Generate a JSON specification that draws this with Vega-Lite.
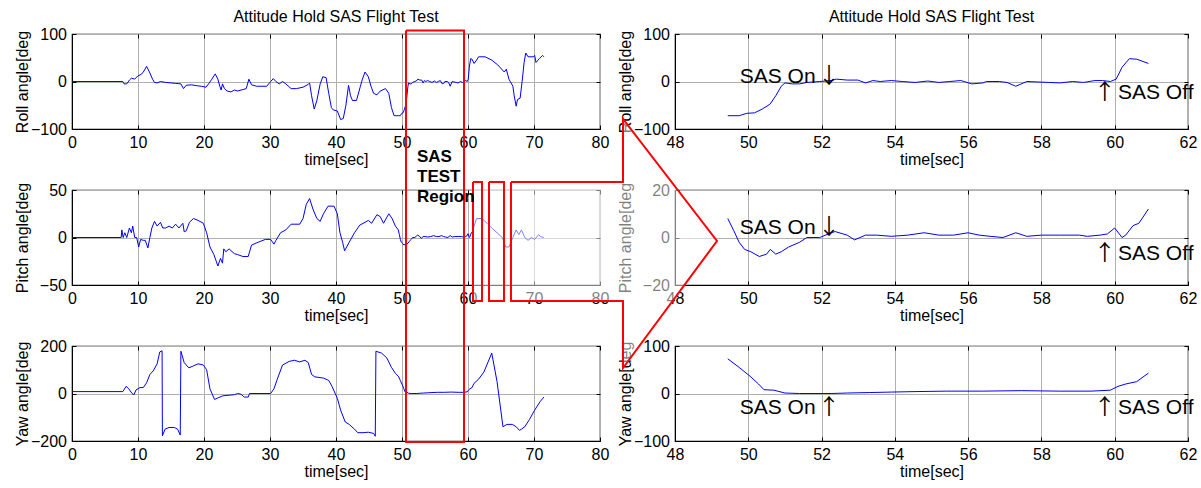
{
  "$schema": "https://vega.github.io/schema/vega-lite/v6.json",
  "padding": {"left": 13, "top": 8, "right": 0, "bottom": 0},
  "autosize": {"type": "pad"},
  "background": "#ffffff",
  "columns": 2,
  "spacing": {"row": 61, "column": 75},
  "bounds": "flush",
  "datasets": {
    "roll": [
      {"t":0,"v":0},{"t":7.7,"v":0},{"t":7.9,"v":-5},{"t":8.3,"v":-5},{"t":8.7,"v":3},{"t":9.0,"v":7},{"t":9.5,"v":5},{"t":10.0,"v":12},{"t":10.5,"v":15},{"t":10.9,"v":22},{"t":11.3,"v":32},{"t":11.8,"v":18},{"t":12.2,"v":5},{"t":12.5,"v":-2},{"t":12.9,"v":-3},{"t":13.4,"v":0},{"t":14.2,"v":-2},{"t":15.0,"v":-3},{"t":15.7,"v":-4},{"t":16.5,"v":-5},{"t":16.9,"v":-15},{"t":17.3,"v":-8},{"t":18.1,"v":-7},{"t":19.0,"v":-9},{"t":19.6,"v":-10},{"t":20.3,"v":-12},{"t":20.7,"v":-5},{"t":21.2,"v":5},{"t":21.7,"v":16},{"t":22.1,"v":5},{"t":22.4,"v":-10},{"t":22.6,"v":-18},{"t":22.8,"v":-5},{"t":23.1,"v":-15},{"t":23.5,"v":-20},{"t":24.1,"v":-22},{"t":24.6,"v":-18},{"t":25.1,"v":-20},{"t":25.9,"v":-17},{"t":26.4,"v":-15},{"t":26.8,"v":5},{"t":27.2,"v":-7},{"t":28.0,"v":-10},{"t":29.5,"v":-10},{"t":30.1,"v":0},{"t":30.5,"v":6},{"t":30.9,"v":0},{"t":31.4,"v":-5},{"t":31.9,"v":0},{"t":32.4,"v":-5},{"t":33.2,"v":-15},{"t":34.0,"v":-15},{"t":35.0,"v":-12},{"t":35.8,"v":-6},{"t":36.0,"v":-3},{"t":36.3,"v":-30},{"t":36.7,"v":-58},{"t":37.1,"v":-40},{"t":37.6,"v":-5},{"t":38.0,"v":10},{"t":38.5,"v":8},{"t":38.9,"v":-25},{"t":39.3,"v":-55},{"t":39.6,"v":-60},{"t":40.2,"v":-62},{"t":40.7,"v":-80},{"t":41.1,"v":-78},{"t":41.5,"v":-50},{"t":41.9,"v":-8},{"t":42.2,"v":-30},{"t":42.5,"v":-40},{"t":43.1,"v":-40},{"t":43.7,"v":-10},{"t":44.0,"v":5},{"t":44.4,"v":20},{"t":44.9,"v":10},{"t":45.3,"v":-10},{"t":45.7,"v":-25},{"t":46.2,"v":-28},{"t":46.7,"v":-20},{"t":47.5,"v":-15},{"t":48.0,"v":-25},{"t":48.4,"v":-55},{"t":48.8,"v":-72},{"t":49.2,"v":-72},
      {"t":49.44,"v":-72},{"t":49.75,"v":-72},{"t":49.96,"v":-67},{"t":50.17,"v":-66},{"t":50.38,"v":-58},{"t":50.59,"v":-48},{"t":50.75,"v":-30},{"t":50.9,"v":-10},{"t":51.0,"v":-3},{"t":51.2,"v":-5},{"t":51.4,"v":-5},{"t":51.6,"v":-2},{"t":51.95,"v":0},{"t":52.26,"v":2},{"t":52.4,"v":5},{"t":52.7,"v":3},{"t":52.99,"v":3},{"t":53.2,"v":-3},{"t":53.4,"v":2},{"t":53.6,"v":0},{"t":53.9,"v":2},{"t":54.2,"v":0},{"t":54.55,"v":-2},{"t":54.9,"v":1},{"t":55.2,"v":-2},{"t":55.5,"v":0},{"t":55.8,"v":2},{"t":56.1,"v":-5},{"t":56.4,"v":-3},{"t":56.5,"v":0},{"t":56.85,"v":0},{"t":57.06,"v":-2},{"t":57.3,"v":-10},{"t":57.6,"v":0},{"t":57.9,"v":-1},{"t":58.2,"v":-2},{"t":58.5,"v":-3},{"t":58.85,"v":0},{"t":59.15,"v":-2},{"t":59.46,"v":2},{"t":59.67,"v":2},{"t":59.88,"v":0},{"t":60.04,"v":5},{"t":60.2,"v":30},{"t":60.4,"v":48},{"t":60.6,"v":47},{"t":60.92,"v":38},
      {"t":61.3,"v":45},{"t":61.6,"v":52},{"t":62.6,"v":52},{"t":63.6,"v":45},{"t":64.5,"v":35},{"t":65.5,"v":20},{"t":65.8,"v":26},{"t":66.2,"v":5},{"t":66.8,"v":-10},{"t":67.0,"v":-30},{"t":67.3,"v":-52},{"t":67.5,"v":-38},{"t":67.9,"v":-35},{"t":68.2,"v":0},{"t":68.5,"v":40},{"t":68.75,"v":60},{"t":69.1,"v":52},{"t":69.9,"v":52},{"t":70.1,"v":55},{"t":70.3,"v":40},{"t":70.8,"v":48},{"t":71.3,"v":55},{"t":71.5,"v":52}
    ],
    "pitch": [
      {"t":0,"v":0},{"t":7.45,"v":0},{"t":7.55,"v":8},{"t":7.75,"v":0},{"t":8.0,"v":5},{"t":8.3,"v":0},{"t":8.7,"v":10},{"t":9.0,"v":5},{"t":9.2,"v":12},{"t":9.5,"v":0},{"t":9.8,"v":0},{"t":10.1,"v":-10},{"t":10.4,"v":-2},{"t":10.8,"v":-3},{"t":11.1,"v":-3},{"t":11.5,"v":-11},{"t":11.8,"v":0},{"t":12.1,"v":10},{"t":12.5,"v":17},{"t":12.9,"v":12},{"t":13.4,"v":16},{"t":13.75,"v":10},{"t":14.2,"v":10},{"t":14.7,"v":12},{"t":15.2,"v":10},{"t":15.7,"v":14},{"t":16.2,"v":10},{"t":16.8,"v":15},{"t":17.0,"v":6},{"t":17.3,"v":7},{"t":17.8,"v":16},{"t":18.4,"v":20},{"t":19.1,"v":18},{"t":19.9,"v":15},{"t":20.4,"v":5},{"t":20.9,"v":-10},{"t":21.5,"v":-18},{"t":22.1,"v":-30},{"t":22.5,"v":-22},{"t":22.8,"v":-27},{"t":23.0,"v":-12},{"t":23.3,"v":-15},{"t":23.8,"v":-12},{"t":24.6,"v":-17},{"t":25.1,"v":-18},{"t":25.9,"v":-20},{"t":26.7,"v":-20},{"t":27.2,"v":-8},{"t":28.2,"v":-5},{"t":29.3,"v":-2},{"t":30.1,"v":-2},{"t":30.6,"v":-7},{"t":30.9,"v":-3},{"t":31.6,"v":5},{"t":32.4,"v":8},{"t":33.2,"v":14},{"t":34.5,"v":14},{"t":35.0,"v":20},{"t":35.5,"v":35},{"t":36.0,"v":41},{"t":36.5,"v":30},{"t":37.1,"v":20},{"t":37.6,"v":17},{"t":38.1,"v":25},{"t":38.8,"v":33},{"t":39.7,"v":33},{"t":40.2,"v":25},{"t":40.6,"v":5},{"t":41.0,"v":-5},{"t":41.3,"v":-14},{"t":42.0,"v":-5},{"t":42.8,"v":5},{"t":43.6,"v":13},{"t":44.4,"v":16},{"t":44.9,"v":18},{"t":45.4,"v":15},{"t":46.2,"v":24},{"t":46.7,"v":22},{"t":47.2,"v":15},{"t":48.0,"v":25},{"t":48.5,"v":20},{"t":49.0,"v":12},
      {"t":49.44,"v":8},{"t":49.6,"v":3},{"t":49.75,"v":-2},{"t":49.9,"v":-5},{"t":50.07,"v":-6},{"t":50.3,"v":-8},{"t":50.5,"v":-7},{"t":50.6,"v":-5},{"t":50.75,"v":-7},{"t":50.9,"v":-6},{"t":51.1,"v":-4},{"t":51.4,"v":-2},{"t":51.6,"v":0},{"t":51.95,"v":0},{"t":52.26,"v":2},{"t":52.37,"v":2.5},{"t":52.7,"v":1},{"t":52.9,"v":-1},{"t":53.2,"v":1},{"t":53.5,"v":1},{"t":53.9,"v":0.5},{"t":54.35,"v":1},{"t":54.8,"v":2},{"t":55.2,"v":1},{"t":55.6,"v":1},{"t":56.0,"v":2},{"t":56.3,"v":1},{"t":56.6,"v":0.5},{"t":56.95,"v":0},{"t":57.3,"v":2},{"t":57.6,"v":0.5},{"t":58.0,"v":1},{"t":58.5,"v":1},{"t":59.04,"v":1},{"t":59.25,"v":0.5},{"t":59.6,"v":1},{"t":59.8,"v":1.5},{"t":60.0,"v":4},{"t":60.2,"v":0},{"t":60.3,"v":1},{"t":60.5,"v":5},{"t":60.66,"v":6},{"t":60.92,"v":12},
      {"t":61.3,"v":20},{"t":62.1,"v":20},{"t":62.9,"v":15},{"t":63.6,"v":10},{"t":64.4,"v":5},{"t":65.2,"v":0},{"t":65.7,"v":-10},{"t":66.2,"v":-10},{"t":66.8,"v":0},{"t":67.3,"v":8},{"t":67.7,"v":3},{"t":68.1,"v":8},{"t":68.6,"v":0},{"t":69.1,"v":-3},{"t":69.6,"v":0},{"t":70.1,"v":-2},{"t":70.7,"v":3},{"t":71.0,"v":1},{"t":71.5,"v":0}
    ],
    "yaw": [
      {"t":0,"v":8},{"t":7.7,"v":8},{"t":8.2,"v":30},{"t":8.6,"v":20},{"t":9.1,"v":0},{"t":9.4,"v":-5},{"t":9.7,"v":15},{"t":10.3,"v":25},{"t":10.8,"v":25},{"t":11.3,"v":45},{"t":11.8,"v":80},{"t":12.3,"v":95},{"t":12.9,"v":125},{"t":13.3,"v":175},{"t":13.65,"v":180},{"t":13.7,"v":-178},{"t":14.1,"v":-150},{"t":14.7,"v":-143},{"t":15.5,"v":-143},{"t":16.0,"v":-150},{"t":16.4,"v":-175},{"t":16.5,"v":178},{"t":17.0,"v":130},{"t":17.7,"v":108},{"t":18.3,"v":115},{"t":19.1,"v":125},{"t":19.9,"v":120},{"t":20.4,"v":100},{"t":20.9,"v":20},{"t":21.6,"v":-25},{"t":22.0,"v":-20},{"t":22.8,"v":-10},{"t":23.5,"v":-8},{"t":24.6,"v":-5},{"t":25.1,"v":0},{"t":25.6,"v":-3},{"t":26.1,"v":-15},{"t":26.7,"v":-15},{"t":26.9,"v":0},{"t":30.1,"v":0},{"t":30.6,"v":20},{"t":31.1,"v":60},{"t":31.9,"v":120},{"t":32.9,"v":135},{"t":33.7,"v":140},{"t":34.5,"v":133},{"t":35.3,"v":140},{"t":35.8,"v":130},{"t":36.3,"v":80},{"t":36.8,"v":70},{"t":38.1,"v":65},{"t":38.9,"v":55},{"t":39.4,"v":30},{"t":40.2,"v":-20},{"t":40.7,"v":-70},{"t":41.4,"v":-120},{"t":42.0,"v":-130},{"t":42.8,"v":-150},{"t":43.3,"v":-165},{"t":44.1,"v":-165},{"t":44.9,"v":-163},{"t":45.7,"v":-168},{"t":45.95,"v":-180},{"t":46.05,"v":178},{"t":46.9,"v":170},{"t":47.7,"v":150},{"t":48.4,"v":110},{"t":49.0,"v":85},
      {"t":49.44,"v":73},{"t":49.75,"v":55},{"t":50.07,"v":35},{"t":50.28,"v":20},{"t":50.43,"v":8},{"t":50.7,"v":7},{"t":51.0,"v":1},{"t":51.4,"v":0},{"t":52.26,"v":0},{"t":52.7,"v":1},{"t":53.3,"v":2},{"t":53.9,"v":3},{"t":54.55,"v":4},{"t":55.4,"v":5},{"t":56.4,"v":5},{"t":57.46,"v":6},{"t":58.5,"v":5},{"t":59.36,"v":5},{"t":59.88,"v":7},{"t":60.09,"v":15},{"t":60.3,"v":20},{"t":60.6,"v":25},{"t":60.92,"v":43},
      {"t":61.6,"v":60},{"t":62.4,"v":90},{"t":63.6,"v":170},{"t":64.4,"v":50},{"t":65.3,"v":-140},{"t":65.9,"v":-130},{"t":66.7,"v":-130},{"t":67.3,"v":-140},{"t":67.8,"v":-155},{"t":68.1,"v":-150},{"t":68.6,"v":-140},{"t":69.3,"v":-110},{"t":70.1,"v":-70},{"t":70.9,"v":-35},{"t":71.5,"v":-15}
    ],
    "annTop": [
      {"t":49.766,"v":-2.5,"label":"SAS On","k":"text"},{"t":60.09,"v":-37.5,"label":"SAS Off","k":"text"},
      {"t":52.2,"v":-2.5,"label":"↓","k":"arrow"},{"t":59.73,"v":-37.5,"label":"↑","k":"arrow"}
    ],
    "annMid": [
      {"t":49.766,"v":1.35,"label":"SAS On","k":"text"},{"t":60.09,"v":-9.6,"label":"SAS Off","k":"text"},
      {"t":52.2,"v":1.35,"label":"↓","k":"arrow"},{"t":59.73,"v":-9.6,"label":"↑","k":"arrow"}
    ],
    "annBot": [
      {"t":49.766,"v":-43.8,"label":"SAS On","k":"text"},{"t":60.09,"v":-43.8,"label":"SAS Off","k":"text"},
      {"t":52.2,"v":-43.8,"label":"↑","k":"arrow"},{"t":59.73,"v":-43.8,"label":"↑","k":"arrow"}
    ],
    "overlay": [
      {"i":1,"t":42.487,"v":445.3},{"i":2,"t":46.581,"v":445.3},{"i":3,"t":46.581,"v":577.9},{"i":4,"t":49.146,"v":321.1},{"i":5,"t":46.581,"v":53.7},{"i":6,"t":46.581,"v":194.7},{"i":7,"t":42.487,"v":194.7}
    ],
    "outline": [
      {"s":"big","i":1,"t":40.659,"v":764.2},{"s":"big","i":2,"t":42.242,"v":764.2},{"s":"big","i":3,"t":42.242,"v":-102.1},{"s":"big","i":4,"t":40.659,"v":-102.1},{"s":"big","i":5,"t":40.659,"v":764.2},
      {"s":"s1","i":1,"t":42.487,"v":445.3},{"s":"s1","i":2,"t":42.733,"v":445.3},{"s":"s1","i":3,"t":42.733,"v":194.7},{"s":"s1","i":4,"t":42.487,"v":194.7},{"s":"s1","i":5,"t":42.487,"v":445.3},
      {"s":"s2","i":1,"t":42.924,"v":445.3},{"s":"s2","i":2,"t":43.333,"v":445.3},{"s":"s2","i":3,"t":43.333,"v":194.7},{"s":"s2","i":4,"t":42.924,"v":194.7},{"s":"s2","i":5,"t":42.924,"v":445.3},
      {"s":"arrow","i":1,"t":43.524,"v":445.3},{"s":"arrow","i":2,"t":46.581,"v":445.3},{"s":"arrow","i":3,"t":46.581,"v":577.9},{"s":"arrow","i":4,"t":49.146,"v":321.1},{"s":"arrow","i":5,"t":46.581,"v":53.7},{"s":"arrow","i":6,"t":46.581,"v":194.7},{"s":"arrow","i":7,"t":43.524,"v":194.7},{"s":"arrow","i":8,"t":43.524,"v":445.3}
    ],
    "region": [
      {"t":40.959,"v":488.0,"label":"SAS\nTEST\nRegion"}
    ]
  },
  "concat": [
    {
      "width": 528, "height": 95,
      "title": {"text": "Attitude Hold SAS Flight Test"},
      "resolve": {"axis": {"x": "independent", "y": "independent"}},
      "layer": [
        {
          "data": {"name": "roll"},
          "mark": {"type": "line", "color": "#0000ff", "strokeWidth": 1},
          "encoding": {
            "x": {"field": "t", "type": "quantitative", "title": "time[sec]", "scale": {"domain": [0, 80], "nice": false, "zero": false}, "axis": {"values": [0,10,20,30,40,50,60,70,80]}},
            "y": {"field": "v", "type": "quantitative", "title": "Roll angle[deg", "scale": {"domain": [-100, 100], "nice": false}, "axis": {"values": [-100,0,100]}}
          }
        },
        {
          "data": {"name": "roll"},
          "mark": {"type": "line", "opacity": 0},
          "encoding": {
            "x": {"field": "t", "type": "quantitative", "axis": {"orient": "top", "values": [0,10,20,30,40,50,60,70,80], "labels": false, "title": null, "grid": false, "domain": false}},
            "y": {"field": "v", "type": "quantitative", "axis": {"orient": "right", "values": [-100,0,100], "labels": false, "title": null, "grid": false, "domain": false}}
          }
        }
      ]
    },
    {
      "width": 513, "height": 95,
      "title": {"text": "Attitude Hold SAS Flight Test"},
      "resolve": {"axis": {"x": "independent", "y": "independent"}},
      "layer": [
        {
          "data": {"name": "roll"},
          "transform": [{"filter": "datum.t >= 49.4 && datum.t <= 61"}],
          "mark": {"type": "line", "color": "#0000ff", "strokeWidth": 1},
          "encoding": {
            "x": {"field": "t", "type": "quantitative", "title": "time[sec]", "scale": {"domain": [48, 62], "nice": false, "zero": false}, "axis": {"values": [48,50,52,54,56,58,60,62]}},
            "y": {"field": "v", "type": "quantitative", "title": "Roll angle[deg", "scale": {"domain": [-100, 100], "nice": false}, "axis": {"values": [-100,0,100]}}
          }
        },
        {
          "data": {"name": "roll"},
          "transform": [{"filter": "datum.t >= 49.4 && datum.t <= 61"}],
          "mark": {"type": "line", "opacity": 0},
          "encoding": {
            "x": {"field": "t", "type": "quantitative", "axis": {"orient": "top", "values": [48,50,52,54,56,58,60,62], "labels": false, "title": null, "grid": false, "domain": false}},
            "y": {"field": "v", "type": "quantitative", "axis": {"orient": "right", "values": [-100,0,100], "labels": false, "title": null, "grid": false, "domain": false}}
          }
        },
        {
          "data": {"name": "annTop"},
          "transform": [{"filter": "datum.k == 'text'"}],
          "mark": {"type": "text", "align": "left", "baseline": "alphabetic", "font": "Liberation Sans", "fontSize": 21, "color": "#000"},
          "encoding": {
            "x": {"field": "t", "type": "quantitative", "axis": null},
            "y": {"field": "v", "type": "quantitative", "axis": null},
            "text": {"field": "label"}
          }
        },
        {
          "data": {"name": "annTop"},
          "transform": [{"filter": "datum.k == 'arrow'"}],
          "mark": {"type": "text", "align": "center", "baseline": "alphabetic", "font": "Noto Sans CJK JP", "fontSize": 22, "color": "#000"},
          "encoding": {
            "x": {"field": "t", "type": "quantitative", "axis": null},
            "y": {"field": "v", "type": "quantitative", "axis": null},
            "text": {"field": "label"}
          }
        }
      ]
    },
    {
      "width": 528, "height": 95,
      "resolve": {"axis": {"x": "independent", "y": "independent"}},
      "layer": [
        {
          "data": {"name": "pitch"},
          "mark": {"type": "line", "color": "#0000ff", "strokeWidth": 1},
          "encoding": {
            "x": {"field": "t", "type": "quantitative", "title": "time[sec]", "scale": {"domain": [0, 80], "nice": false, "zero": false}, "axis": {"values": [0,10,20,30,40,50,60,70,80]}},
            "y": {"field": "v", "type": "quantitative", "title": "Pitch angle[deg", "scale": {"domain": [-50, 50], "nice": false}, "axis": {"values": [-50,0,50]}}
          }
        },
        {
          "data": {"name": "pitch"},
          "mark": {"type": "line", "opacity": 0},
          "encoding": {
            "x": {"field": "t", "type": "quantitative", "axis": {"orient": "top", "values": [0,10,20,30,40,50,60,70,80], "labels": false, "title": null, "grid": false, "domain": false}},
            "y": {"field": "v", "type": "quantitative", "axis": {"orient": "right", "values": [-50,0,50], "labels": false, "title": null, "grid": false, "domain": false}}
          }
        }
      ]
    },
    {
      "width": 513, "height": 95,
      "resolve": {"axis": {"x": "independent", "y": "independent"}},
      "layer": [
        {
          "data": {"name": "pitch"},
          "transform": [{"filter": "datum.t >= 49.4 && datum.t <= 61"}],
          "mark": {"type": "line", "color": "#0000ff", "strokeWidth": 1},
          "encoding": {
            "x": {"field": "t", "type": "quantitative", "title": "time[sec]", "scale": {"domain": [48, 62], "nice": false, "zero": false}, "axis": {"values": [48,50,52,54,56,58,60,62]}},
            "y": {"field": "v", "type": "quantitative", "title": "Pitch angle[deg", "scale": {"domain": [-20, 20], "nice": false}, "axis": {"values": [-20,0,20]}}
          }
        },
        {
          "data": {"name": "pitch"},
          "transform": [{"filter": "datum.t >= 49.4 && datum.t <= 61"}],
          "mark": {"type": "line", "opacity": 0},
          "encoding": {
            "x": {"field": "t", "type": "quantitative", "axis": {"orient": "top", "values": [48,50,52,54,56,58,60,62], "labels": false, "title": null, "grid": false, "domain": false}},
            "y": {"field": "v", "type": "quantitative", "axis": {"orient": "right", "values": [-20,0,20], "labels": false, "title": null, "grid": false, "domain": false}}
          }
        },
        {
          "data": {"name": "annMid"},
          "transform": [{"filter": "datum.k == 'text'"}],
          "mark": {"type": "text", "align": "left", "baseline": "alphabetic", "font": "Liberation Sans", "fontSize": 21, "color": "#000"},
          "encoding": {
            "x": {"field": "t", "type": "quantitative", "axis": null},
            "y": {"field": "v", "type": "quantitative", "axis": null},
            "text": {"field": "label"}
          }
        },
        {
          "data": {"name": "annMid"},
          "transform": [{"filter": "datum.k == 'arrow'"}],
          "mark": {"type": "text", "align": "center", "baseline": "alphabetic", "font": "Noto Sans CJK JP", "fontSize": 22, "color": "#000"},
          "encoding": {
            "x": {"field": "t", "type": "quantitative", "axis": null},
            "y": {"field": "v", "type": "quantitative", "axis": null},
            "text": {"field": "label"}
          }
        }
      ]
    },
    {
      "width": 528, "height": 95,
      "resolve": {"axis": {"x": "independent", "y": "independent"}},
      "layer": [
        {
          "data": {"name": "yaw"},
          "mark": {"type": "line", "color": "#0000ff", "strokeWidth": 1},
          "encoding": {
            "x": {"field": "t", "type": "quantitative", "title": "time[sec]", "scale": {"domain": [0, 80], "nice": false, "zero": false}, "axis": {"values": [0,10,20,30,40,50,60,70,80]}},
            "y": {"field": "v", "type": "quantitative", "title": "Yaw angle[deg", "scale": {"domain": [-200, 200], "nice": false}, "axis": {"values": [-200,0,200]}}
          }
        },
        {
          "data": {"name": "yaw"},
          "mark": {"type": "line", "opacity": 0},
          "encoding": {
            "x": {"field": "t", "type": "quantitative", "axis": {"orient": "top", "values": [0,10,20,30,40,50,60,70,80], "labels": false, "title": null, "grid": false, "domain": false}},
            "y": {"field": "v", "type": "quantitative", "axis": {"orient": "right", "values": [-200,0,200], "labels": false, "title": null, "grid": false, "domain": false}}
          }
        }
      ]
    },
    {
      "width": 513, "height": 95,
      "resolve": {"axis": {"x": "independent", "y": "independent"}},
      "layer": [
        {
          "data": {"name": "yaw"},
          "transform": [{"filter": "datum.t >= 49.4 && datum.t <= 61"}],
          "mark": {"type": "line", "color": "#0000ff", "strokeWidth": 1},
          "encoding": {
            "x": {"field": "t", "type": "quantitative", "title": "time[sec]", "scale": {"domain": [48, 62], "nice": false, "zero": false}, "axis": {"values": [48,50,52,54,56,58,60,62]}},
            "y": {"field": "v", "type": "quantitative", "title": "Yaw angle[deg", "scale": {"domain": [-100, 100], "nice": false}, "axis": {"values": [-100,0,100]}}
          }
        },
        {
          "data": {"name": "yaw"},
          "transform": [{"filter": "datum.t >= 49.4 && datum.t <= 61"}],
          "mark": {"type": "line", "opacity": 0},
          "encoding": {
            "x": {"field": "t", "type": "quantitative", "axis": {"orient": "top", "values": [48,50,52,54,56,58,60,62], "labels": false, "title": null, "grid": false, "domain": false}},
            "y": {"field": "v", "type": "quantitative", "axis": {"orient": "right", "values": [-100,0,100], "labels": false, "title": null, "grid": false, "domain": false}}
          }
        },
        {
          "data": {"name": "annBot"},
          "transform": [{"filter": "datum.k == 'text'"}],
          "mark": {"type": "text", "align": "left", "baseline": "alphabetic", "font": "Liberation Sans", "fontSize": 21, "color": "#000"},
          "encoding": {
            "x": {"field": "t", "type": "quantitative", "axis": null},
            "y": {"field": "v", "type": "quantitative", "axis": null},
            "text": {"field": "label"}
          }
        },
        {
          "data": {"name": "annBot"},
          "transform": [{"filter": "datum.k == 'arrow'"}],
          "mark": {"type": "text", "align": "center", "baseline": "alphabetic", "font": "Noto Sans CJK JP", "fontSize": 22, "color": "#000"},
          "encoding": {
            "x": {"field": "t", "type": "quantitative", "axis": null},
            "y": {"field": "v", "type": "quantitative", "axis": null},
            "text": {"field": "label"}
          }
        },
        {
          "data": {"name": "overlay"},
          "mark": {"type": "line", "fill": "#ffffff", "fillOpacity": 0.5, "strokeOpacity": 0, "strokeWidth": 0},
          "encoding": {
            "x": {"field": "t", "type": "quantitative", "axis": null},
            "y": {"field": "v", "type": "quantitative", "axis": null},
            "order": {"field": "i", "type": "quantitative"}
          }
        },
        {
          "data": {"name": "outline"},
          "mark": {"type": "line", "color": "#ff0000", "strokeWidth": 2, "strokeJoin": "miter"},
          "encoding": {
            "x": {"field": "t", "type": "quantitative", "axis": null},
            "y": {"field": "v", "type": "quantitative", "axis": null},
            "detail": {"field": "s", "type": "nominal"},
            "order": {"field": "i", "type": "quantitative"}
          }
        },
        {
          "data": {"name": "region"},
          "mark": {"type": "text", "align": "left", "baseline": "alphabetic", "font": "Liberation Sans", "fontSize": 17, "fontWeight": "bold", "lineHeight": 20, "lineBreak": "\n", "color": "#000"},
          "encoding": {
            "x": {"field": "t", "type": "quantitative", "axis": null},
            "y": {"field": "v", "type": "quantitative", "axis": null},
            "text": {"field": "label"}
          }
        }
      ]
    }
  ],
  "config": {
    "view": {"stroke": "#000000", "strokeWidth": 1.2},
    "font": "Liberation Sans",
    "title": {"font": "Liberation Sans", "fontSize": 16, "fontWeight": "normal", "color": "#000000", "offset": 1, "anchor": "middle"},
    "axis": {
      "labelFont": "Liberation Sans", "labelFontSize": 16, "labelColor": "#000000",
      "titleFont": "Liberation Sans", "titleFontSize": 16, "titleFontWeight": "normal", "titleColor": "#000000",
      "domainColor": "#000000", "domainWidth": 1,
      "tickColor": "#000000", "tickSize": -4, "tickWidth": 1,
      "gridColor": "#b0b0b0", "gridWidth": 1, "gridOpacity": 1,
      "labelFlush": false, "labelOverlap": false, "labelBound": false
    },
    "axisBottom": {"labelPadding": 9.5, "titleY": 35, "titleBaseline": "alphabetic", "titleAnchor": "middle"},
    "axisLeft": {"labelPadding": 9.5, "titleX": -50, "titleY": 47.5, "titleBaseline": "middle", "titleAngle": -90, "titleAlign": "center", "titleFontSize": 16, "titleAnchor": "middle"}
  }
}
